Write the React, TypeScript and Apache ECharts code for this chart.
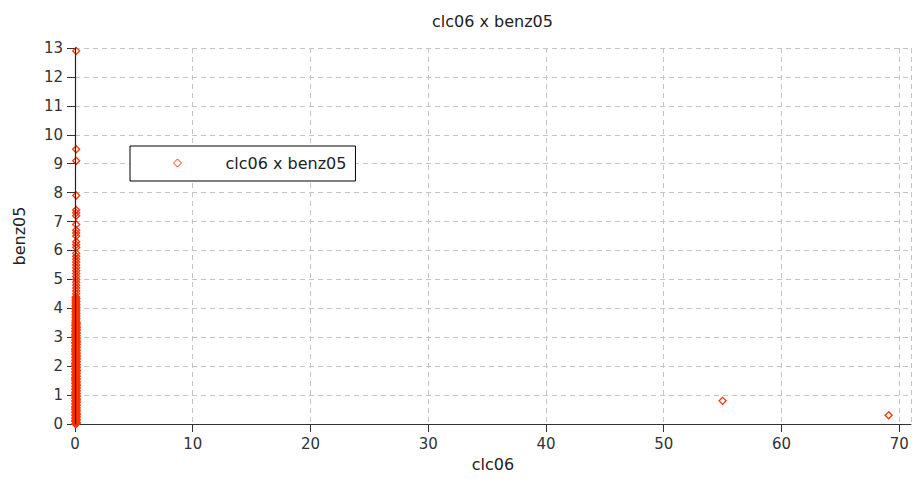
import React, { useEffect, useRef } from "react";
import * as echarts from "echarts";

const chartTitle = "clc06 x benz05";
const seriesName = "clc06 x benz05";
const xAxisName = "clc06";
const yAxisName = "benz05";

// [clc06, benz05] pairs
const denseLowPoints: [number, number][] = [
  [0.04, 0.0], [0.13, 0.05], [0.04, 0.1], [0.13, 0.15], [0.04, 0.2], [0.13, 0.25], [0.04, 0.3], [0.13, 0.35],
  [0.04, 0.4], [0.13, 0.45], [0.04, 0.5], [0.13, 0.55], [0.04, 0.6], [0.13, 0.65], [0.04, 0.7], [0.13, 0.75],
  [0.04, 0.8], [0.13, 0.85], [0.04, 0.9], [0.13, 0.95], [0.04, 1.0], [0.13, 1.05], [0.04, 1.1], [0.13, 1.15],
  [0.04, 1.2], [0.13, 1.25], [0.04, 1.3], [0.13, 1.35], [0.04, 1.4], [0.13, 1.45], [0.04, 1.5], [0.13, 1.55],
  [0.04, 1.6], [0.13, 1.65], [0.04, 1.7], [0.13, 1.75], [0.04, 1.8], [0.13, 1.85], [0.04, 1.9], [0.13, 1.95],
  [0.04, 2.0], [0.13, 2.05], [0.04, 2.1], [0.13, 2.15], [0.04, 2.2], [0.13, 2.25], [0.04, 2.3], [0.13, 2.35],
  [0.04, 2.4], [0.13, 2.45], [0.04, 2.5], [0.13, 2.55], [0.04, 2.6], [0.13, 2.65], [0.04, 2.7], [0.13, 2.75],
  [0.04, 2.8], [0.13, 2.85], [0.04, 2.9], [0.13, 2.95], [0.04, 3.0], [0.13, 3.05], [0.04, 3.1], [0.13, 3.15],
  [0.04, 3.2], [0.13, 3.25], [0.04, 3.3], [0.13, 3.35], [0.04, 3.4], [0.13, 3.45], [0.04, 3.5],
  [0.13, 0.02], [0.04, 0.12], [0.13, 0.33], [0.04, 0.58], [0.13, 0.82], [0.04, 1.07], [0.13, 1.32], [0.04, 1.58],
  [0.13, 1.83], [0.04, 2.07], [0.13, 2.32], [0.04, 2.58], [0.13, 2.83], [0.04, 3.08], [0.13, 3.32], [0.13, 3.5],
];

const denseCorePoints: [number, number][] = [
  [0.09, 0.03], [0.08, 0.08], [0.09, 0.13], [0.08, 0.18], [0.09, 0.23], [0.08, 0.28], [0.09, 0.33], [0.08, 0.38],
  [0.09, 0.43], [0.08, 0.48], [0.09, 0.53], [0.08, 0.58], [0.09, 0.63], [0.08, 0.68], [0.09, 0.73], [0.08, 0.78],
  [0.09, 0.83], [0.08, 0.88], [0.09, 0.93], [0.08, 0.98], [0.09, 1.03], [0.08, 1.08], [0.09, 1.13], [0.08, 1.18],
  [0.09, 1.23], [0.08, 1.28], [0.09, 1.33], [0.08, 1.38], [0.09, 1.43], [0.08, 1.48], [0.09, 1.53], [0.08, 1.58],
  [0.09, 1.63], [0.08, 1.68], [0.09, 1.73], [0.08, 1.78], [0.09, 1.83], [0.08, 1.88], [0.09, 1.93], [0.08, 1.98],
  [0.09, 2.03], [0.08, 2.08], [0.09, 2.13], [0.08, 2.18], [0.09, 2.23], [0.08, 2.28], [0.09, 2.33], [0.08, 2.38],
  [0.09, 2.43], [0.08, 2.48], [0.09, 2.53], [0.08, 2.58], [0.09, 2.63], [0.08, 2.68], [0.09, 2.73], [0.08, 2.78],
  [0.09, 2.83], [0.08, 2.88], [0.09, 2.93], [0.08, 2.98], [0.09, 3.03], [0.08, 3.08], [0.09, 3.13], [0.08, 3.18],
  [0.09, 3.23], [0.08, 3.28], [0.09, 3.33], [0.08, 3.38], [0.09, 3.43], [0.08, 3.48],
];

const denseEdgePoints: [number, number][] = [
  [0.06, 0.015], [0.11, 0.065], [0.06, 0.115], [0.11, 0.165], [0.06, 0.215], [0.11, 0.265], [0.06, 0.315], [0.11, 0.365],
  [0.06, 0.415], [0.11, 0.465], [0.06, 0.515], [0.11, 0.565], [0.06, 0.615], [0.11, 0.665], [0.06, 0.715], [0.11, 0.765],
  [0.06, 0.815], [0.11, 0.865], [0.06, 0.915], [0.11, 0.965], [0.06, 1.015], [0.11, 1.065], [0.06, 1.115], [0.11, 1.165],
  [0.06, 1.215], [0.11, 1.265], [0.06, 1.315], [0.11, 1.365], [0.06, 1.415], [0.11, 1.465], [0.06, 1.515], [0.11, 1.565],
  [0.06, 1.615], [0.11, 1.665], [0.06, 1.715], [0.11, 1.765], [0.06, 1.815], [0.11, 1.865], [0.06, 1.915], [0.11, 1.965],
  [0.06, 2.015], [0.11, 2.065], [0.06, 2.115], [0.11, 2.165], [0.06, 2.215], [0.11, 2.265], [0.06, 2.315], [0.11, 2.365],
  [0.06, 2.415], [0.11, 2.465], [0.06, 2.515], [0.11, 2.565], [0.06, 2.615], [0.11, 2.665], [0.06, 2.715], [0.11, 2.765],
  [0.06, 2.815], [0.11, 2.865], [0.06, 2.915], [0.11, 2.965], [0.06, 3.015], [0.11, 3.065], [0.06, 3.115], [0.11, 3.165],
  [0.06, 3.215], [0.11, 3.265], [0.06, 3.315], [0.11, 3.365], [0.06, 3.415], [0.11, 3.465],
  [0.11, 0.04], [0.06, 0.09], [0.11, 0.14], [0.06, 0.19], [0.11, 0.24], [0.06, 0.29], [0.11, 0.39], [0.06, 0.44],
  [0.11, 0.49], [0.06, 0.54], [0.11, 0.64], [0.06, 0.69], [0.11, 0.74], [0.06, 0.79], [0.11, 0.89], [0.06, 0.94],
  [0.11, 0.99], [0.06, 1.04], [0.11, 1.14], [0.06, 1.19], [0.11, 1.24], [0.06, 1.29], [0.11, 1.39], [0.06, 1.44],
  [0.11, 1.49], [0.06, 1.54], [0.11, 1.64], [0.06, 1.69], [0.11, 1.74], [0.06, 1.79], [0.11, 1.89], [0.06, 1.94],
  [0.11, 1.99], [0.06, 2.04], [0.11, 2.14], [0.06, 2.19], [0.11, 2.24], [0.06, 2.29], [0.11, 2.39], [0.06, 2.44],
  [0.11, 2.49], [0.06, 2.54], [0.11, 2.64], [0.06, 2.69], [0.11, 2.74], [0.06, 2.79], [0.11, 2.89], [0.06, 2.94],
  [0.11, 2.99], [0.06, 3.04], [0.11, 3.14], [0.06, 3.19], [0.11, 3.24], [0.06, 3.29], [0.11, 3.39], [0.06, 3.44],
];

const denseMidPoints: [number, number][] = [
  [0.08, 3.55], [0.08, 3.6], [0.08, 3.65], [0.08, 3.7], [0.08, 3.75], [0.08, 3.8], [0.08, 3.85], [0.08, 3.9],
  [0.08, 3.95], [0.08, 4.0], [0.08, 4.05], [0.08, 4.1], [0.08, 4.15], [0.08, 4.2], [0.08, 4.25], [0.08, 4.3],
  [0.08, 4.35], [0.08, 4.4],
  [0.11, 3.53], [0.06, 3.58], [0.11, 3.63], [0.06, 3.68], [0.11, 3.73], [0.06, 3.78], [0.11, 3.83], [0.06, 3.88],
  [0.11, 3.93], [0.06, 3.98], [0.11, 4.03], [0.06, 4.08], [0.11, 4.13], [0.06, 4.18], [0.11, 4.23], [0.06, 4.28],
  [0.11, 4.33], [0.06, 4.38],
];

const sparseHighPoints: [number, number][] = [
  [0.1, 4.5], [0.1, 4.6], [0.1, 4.7], [0.1, 4.8], [0.1, 4.9], [0.1, 5.0], [0.1, 5.1], [0.1, 5.2],
  [0.1, 5.3], [0.1, 5.4], [0.1, 5.5], [0.1, 5.6], [0.1, 5.7], [0.1, 5.8], [0.1, 5.9], [0.1, 6.1],
  [0.1, 6.2], [0.1, 6.3], [0.1, 6.5], [0.1, 6.6], [0.1, 6.7], [0.1, 6.9], [0.1, 7.2], [0.1, 7.3],
  [0.1, 7.4], [0.1, 7.9], [0.1, 9.1], [0.1, 9.5], [0.1, 12.9],
];

const outlierPoints: [number, number][] = [
  [55.0, 0.8],
  [69.1, 0.3],
];

const xMin = 0;
const xMax = 71;
const xInterval = 10;
const yMin = 0;
const yMax = 13;
const yInterval = 1;

const FONT = "'DejaVu Sans', sans-serif";
const RED = "#ff3300";
const DIAMOND_PATH = "path://M0,-1L1,0L0,1L-1,0Z";

export default function App() {
  const ref = useRef<HTMLDivElement>(null);

  useEffect(() => {
    if (!ref.current) return;
    const chart = echarts.init(ref.current, undefined, { renderer: "svg" });
    const allPoints = [
      ...denseLowPoints,
      ...denseCorePoints,
      ...denseEdgePoints,
      ...denseMidPoints,
      ...sparseHighPoints,
      ...outlierPoints,
    ];
    chart.setOption({
      animation: false,
      backgroundColor: "#ffffff",
      title: {
        text: chartTitle,
        left: 432,
        top: 13,
        padding: 0,
        textStyle: { fontFamily: FONT, fontSize: 16, fontWeight: "normal", color: "#222" },
      },
      legend: {
        left: 130,
        top: 146,
        padding: [9, 9, 10, 43],
        itemWidth: 8,
        itemHeight: 8,
        itemGap: 0,
        symbolKeepAspect: true,
        borderColor: "#000",
        borderWidth: 1,
        backgroundColor: "#fff",
        itemStyle: { borderWidth: 1 },
        textStyle: { fontFamily: FONT, fontSize: 16, color: "#222", padding: [0, 0, 0, 39] },
        data: [{ name: seriesName, icon: DIAMOND_PATH }],
      },
      grid: { left: 75, right: 2, top: 48, bottom: 55, containLabel: false },
      xAxis: {
        type: "value",
        min: xMin,
        max: xMax,
        interval: xInterval,
        name: xAxisName,
        nameLocation: "middle",
        nameGap: 32,
        nameTextStyle: { fontFamily: FONT, fontSize: 16, color: "#222" },
        axisLine: { show: true, onZero: false, lineStyle: { color: "#333", width: 1 } },
        axisTick: { show: true, length: 8, lineStyle: { color: "#333" } },
        axisLabel: { fontFamily: FONT, fontSize: 15, color: "#333", margin: 12, showMaxLabel: false },
        splitLine: { show: true, lineStyle: { color: "#c4c4c4", type: [5, 4] } },
      },
      yAxis: [
        {
          type: "value",
          min: yMin,
          max: yMax,
          interval: yInterval,
          name: yAxisName,
          nameLocation: "middle",
          nameGap: 48,
          nameTextStyle: { fontFamily: FONT, fontSize: 16, color: "#222" },
          axisLine: { show: true, lineStyle: { color: "#333", width: 1 } },
          axisTick: { show: true, length: 8, lineStyle: { color: "#333" } },
          axisLabel: { fontFamily: FONT, fontSize: 15, color: "#333", margin: 12 },
          splitLine: { show: true, lineStyle: { color: "#c4c4c4", type: [5, 4] } },
        },
        {
          type: "value",
          min: yMin,
          max: yMax,
          interval: yInterval,
          position: "left",
          offset: 0,
          z: 5,
          axisLine: { show: true, lineStyle: { color: "#222", width: 1.2 } },
          axisTick: { show: false },
          axisLabel: { show: false },
          splitLine: { show: false },
        },
      ],
      series: [
        {
          name: seriesName,
          type: "scatter",
          yAxisIndex: 0,
          symbol: "diamond",
          symbolSize: 7,
          itemStyle: { color: "rgba(0,0,0,0)", borderColor: RED, borderWidth: 1.3, opacity: 1 },
          emphasis: { disabled: true },
          data: allPoints,
        },
      ],
    });
    return () => chart.dispose();
  }, []);

  return <div ref={ref} style={{ position: "absolute", left: 0, top: 0, width: 913, height: 479 }} />;
}
